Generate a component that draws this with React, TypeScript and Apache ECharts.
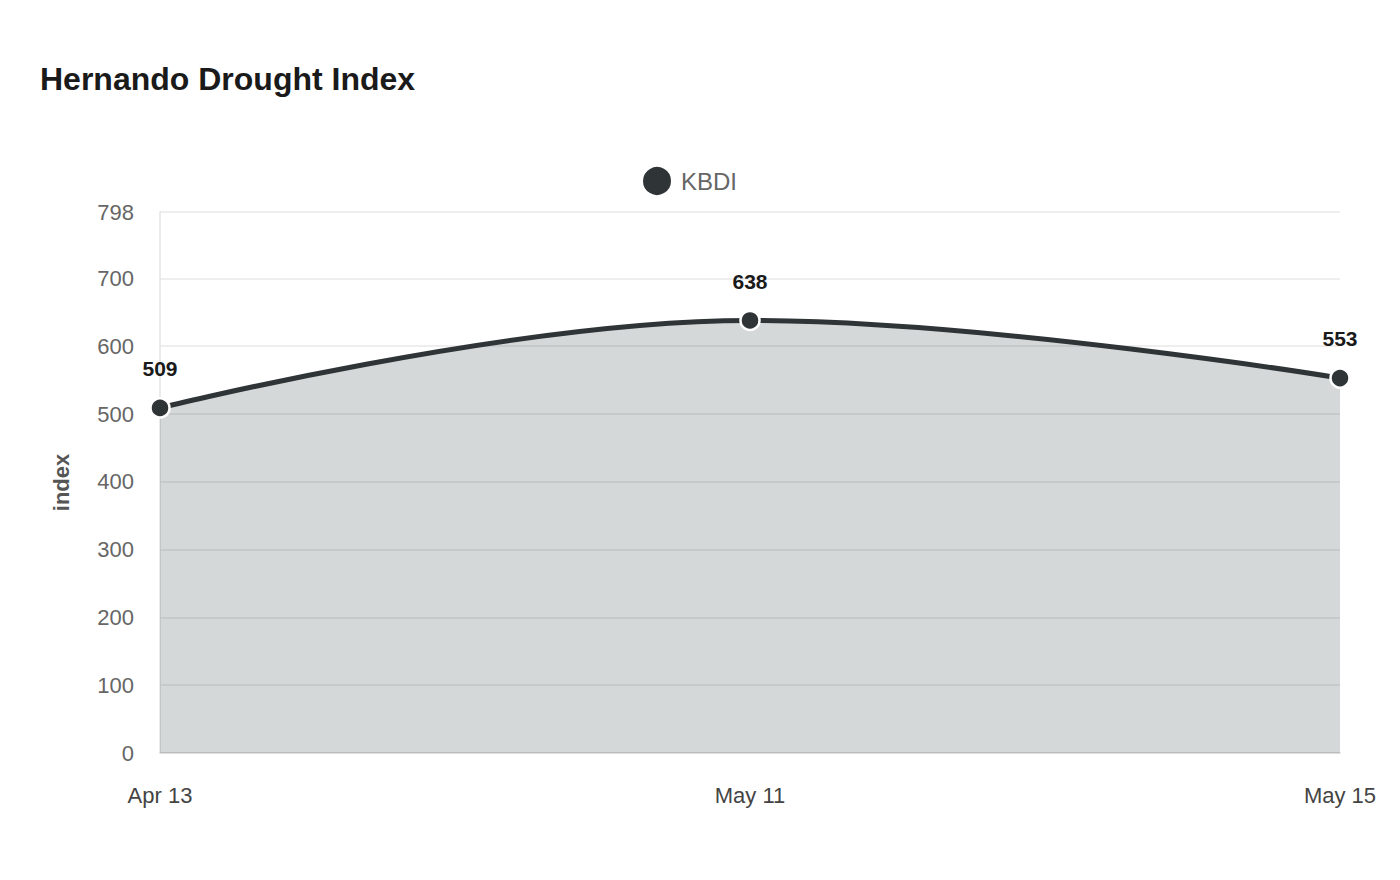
import { useEffect, useRef } from 'react'
import * as echarts from 'echarts'

const categories = ['Apr 13', 'May 11', 'May 15']
const kbdiValues = [509, 638, 553]
const yMax = 798

const LINE = '#2f3436'

export default function App() {
  const ref = useRef<HTMLDivElement>(null)

  useEffect(() => {
    if (!ref.current) return
    const chart = echarts.init(ref.current, null, { renderer: 'svg' })
    chart.setOption({
      animation: false,
      textStyle: { fontFamily: '"Liberation Sans", Arial, sans-serif' },
      title: {
        text: 'Hernando Drought Index',
        left: 40,
        top: 63,
        padding: 0,
        textStyle: { fontSize: 32, fontWeight: 'bold', color: '#1a1a1a' },
      },
      legend: {
        top: 160,
        left: 636,
        icon: 'circle',
        itemWidth: 30,
        itemHeight: 30,
        textStyle: { fontSize: 24, color: '#666', padding: [0, 0, 0, 4] },
        data: ['KBDI'],
      },
      grid: { left: 160, right: 60, top: 212, bottom: 127, containLabel: false },
      xAxis: {
        type: 'category',
        data: categories,
        boundaryGap: false,
        axisLine: { show: true, lineStyle: { color: '#d9d9d9', width: 1.5 } },
        axisTick: { show: false },
        axisLabel: { fontSize: 22, color: '#444', margin: 31 },
        splitLine: { show: false },
      },
      yAxis: {
        type: 'value',
        min: 0,
        max: yMax,
        interval: 100,
        name: 'index',
        nameLocation: 'middle',
        nameRotate: 90,
        nameGap: 88,
        nameTextStyle: { fontSize: 22, fontWeight: 'bold', color: '#555' },
        axisLine: { show: true, lineStyle: { color: '#e3e3e3', width: 1.5 } },
        axisTick: { show: false },
        axisLabel: { fontSize: 22, color: '#666', margin: 26 },
        splitLine: { show: true, lineStyle: { color: '#e8e8e8', width: 1.5 } },
      },
      series: [
        {
          name: 'KBDI',
          type: 'line',
          data: kbdiValues,
          smooth: 0.4,
          symbol: 'circle',
          symbolSize: 19,
          itemStyle: { color: LINE, borderColor: '#fff', borderWidth: 2.5 },
          lineStyle: { color: LINE, width: 5 },
          areaStyle: { color: '#2d3d3a', opacity: 0.2 },
          label: {
            show: true,
            position: 'top',
            distance: 18,
            fontSize: 21,
            fontWeight: 'bold',
            color: '#1a1a1a',
          },
        },
      ],
    })
    return () => chart.dispose()
  }, [])

  return (
    <div
      ref={ref}
      style={{ position: 'fixed', left: 0, top: 0, width: 1400, height: 880, background: '#fff' }}
    />
  )
}
